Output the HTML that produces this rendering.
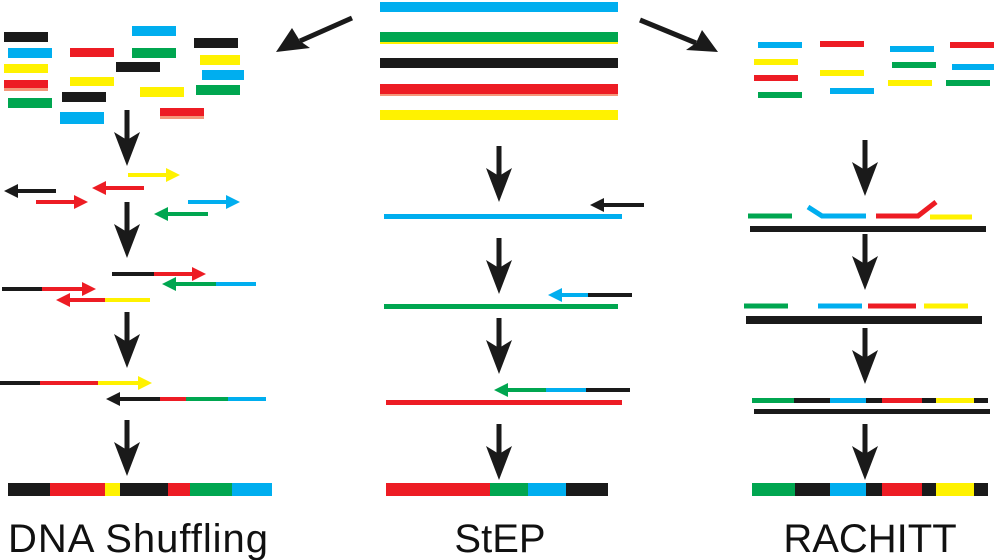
<!DOCTYPE html>
<html><head><meta charset="utf-8"><style>
html,body{margin:0;padding:0;background:#fff;width:994px;height:560px;overflow:hidden}
svg{display:block}
text{font-family:"Liberation Sans",sans-serif;fill:#111}
</style></head><body>
<svg width="994" height="560" viewBox="0 0 994 560" xmlns="http://www.w3.org/2000/svg">
<defs>
<g id="da"><rect x="-2.5" y="0" width="5" height="32"/><polygon points="-13,22 0,30 13,22 0,56"/></g>
</defs>
<g fill="#1a1a1a">
<!-- down arrows left -->
<use href="#da" x="127" y="110"/><use href="#da" x="127" y="202"/><use href="#da" x="127" y="312"/><use href="#da" x="127" y="420"/>
<use href="#da" x="499" y="146"/><use href="#da" x="499" y="238"/><use href="#da" x="499" y="318"/><use href="#da" x="499" y="424"/>
<use href="#da" x="865" y="140"/><use href="#da" x="865" y="234"/><use href="#da" x="865" y="328"/><use href="#da" x="865" y="424"/>
<!-- diagonal arrows -->
<line x1="352" y1="18" x2="300" y2="41" stroke="#1a1a1a" stroke-width="5"/>
<polygon points="276,52 292,28 300,41 310,48"/>
<line x1="640" y1="20" x2="696" y2="43" stroke="#1a1a1a" stroke-width="5"/>
<polygon points="718,52 686,50 696,43 702,30"/>
</g>
<!-- top strands middle -->
<rect x="380" y="2" width="238" height="10" fill="#00aeef"/>
<rect x="380" y="32" width="238" height="10" fill="#00a650"/><rect x="380" y="42" width="238" height="2" fill="#fff200"/>
<rect x="380" y="58" width="238" height="10" fill="#1a1a1a"/>
<rect x="380" y="84" width="238" height="10" fill="#ed1c24"/><rect x="380" y="94" width="238" height="2" fill="#f4977a"/>
<rect x="380" y="110" width="238" height="10" fill="#fff200"/>
<!-- left fragments -->
<g>
<rect x="4" y="32" width="44" height="10" fill="#1a1a1a"/>
<rect x="8" y="48" width="44" height="10" fill="#00aeef"/>
<rect x="4" y="64" width="44" height="9" fill="#fff200"/>
<rect x="4" y="80" width="44" height="8" fill="#ed1c24"/><rect x="4" y="88" width="44" height="3" fill="#f4977a"/>
<rect x="8" y="98" width="44" height="10" fill="#00a650"/>
<rect x="70" y="48" width="44" height="9" fill="#ed1c24"/>
<rect x="70" y="77" width="44" height="9" fill="#fff200"/>
<rect x="62" y="92" width="44" height="10" fill="#1a1a1a"/>
<rect x="60" y="112" width="44" height="12" fill="#00aeef"/>
<rect x="132" y="26" width="44" height="10" fill="#00aeef"/>
<rect x="132" y="48" width="44" height="10" fill="#00a650"/>
<rect x="116" y="62" width="44" height="10" fill="#1a1a1a"/>
<rect x="140" y="87" width="44" height="10" fill="#fff200"/>
<rect x="160" y="108" width="44" height="8" fill="#ed1c24"/><rect x="160" y="116" width="44" height="3" fill="#f4977a"/>
<rect x="194" y="38" width="44" height="10" fill="#1a1a1a"/>
<rect x="200" y="55" width="40" height="10" fill="#fff200"/>
<rect x="202" y="70" width="42" height="10" fill="#00aeef"/>
<rect x="196" y="85" width="44" height="10" fill="#00a650"/>
</g>
<!-- right fragments -->
<g>
<rect x="758" y="42" width="44" height="6" fill="#00aeef"/>
<rect x="820" y="41" width="44" height="6" fill="#ed1c24"/>
<rect x="890" y="46" width="44" height="6" fill="#00aeef"/>
<rect x="950" y="42" width="44" height="6" fill="#ed1c24"/>
<rect x="754" y="59" width="44" height="6" fill="#fff200"/>
<rect x="820" y="70" width="44" height="6" fill="#fff200"/>
<rect x="892" y="62" width="44" height="6" fill="#00a650"/>
<rect x="952" y="64" width="42" height="6" fill="#00aeef"/>
<rect x="754" y="75" width="44" height="6" fill="#ed1c24"/>
<rect x="830" y="88" width="44" height="6" fill="#00aeef"/>
<rect x="888" y="80" width="44" height="6" fill="#fff200"/>
<rect x="946" y="80" width="44" height="6" fill="#00a650"/>
<rect x="758" y="92" width="44" height="6" fill="#00a650"/>
</g>
<!-- shuffling step 2 -->
<g stroke-width="4">
<line x1="16" y1="191" x2="56" y2="191" stroke="#1a1a1a"/><polygon points="4,191 18,184 18,198" fill="#1a1a1a"/>
<line x1="36" y1="202" x2="76" y2="202" stroke="#ed1c24"/><polygon points="88,202 74,195 74,209" fill="#ed1c24"/>
<line x1="104" y1="188" x2="144" y2="188" stroke="#ed1c24"/><polygon points="92,188 106,181 106,195" fill="#ed1c24"/>
<line x1="128" y1="175" x2="168" y2="175" stroke="#fff200"/><polygon points="180,175 166,168 166,182" fill="#fff200"/>
<line x1="188" y1="202" x2="228" y2="202" stroke="#00aeef"/><polygon points="240,202 226,195 226,209" fill="#00aeef"/>
<line x1="166" y1="214" x2="208" y2="214" stroke="#00a650"/><polygon points="154,214 168,207 168,221" fill="#00a650"/>
<!-- step 3 -->
<line x1="112" y1="274" x2="154" y2="274" stroke="#1a1a1a"/><line x1="154" y1="274" x2="194" y2="274" stroke="#ed1c24"/><polygon points="206,274 192,267 192,281" fill="#ed1c24"/>
<line x1="174" y1="284" x2="216" y2="284" stroke="#00a650"/><line x1="216" y1="284" x2="256" y2="284" stroke="#00aeef"/><polygon points="162,284 176,277 176,291" fill="#00a650"/>
<line x1="2" y1="289" x2="42" y2="289" stroke="#1a1a1a"/><line x1="42" y1="289" x2="84" y2="289" stroke="#ed1c24"/><polygon points="96,289 82,282 82,296" fill="#ed1c24"/>
<line x1="68" y1="300" x2="105" y2="300" stroke="#ed1c24"/><line x1="105" y1="300" x2="150" y2="300" stroke="#fff200"/><polygon points="56,300 70,293 70,307" fill="#ed1c24"/>
<!-- step 4 -->
<line x1="0" y1="383" x2="40" y2="383" stroke="#1a1a1a"/><line x1="40" y1="383" x2="98" y2="383" stroke="#ed1c24"/><line x1="98" y1="383" x2="140" y2="383" stroke="#fff200"/><polygon points="152,383 138,376 138,390" fill="#fff200"/>
<line x1="118" y1="399" x2="160" y2="399" stroke="#1a1a1a"/><line x1="160" y1="399" x2="186" y2="399" stroke="#ed1c24"/><line x1="186" y1="399" x2="228" y2="399" stroke="#00a650"/><line x1="228" y1="399" x2="266" y2="399" stroke="#00aeef"/><polygon points="106,399 120,392 120,406" fill="#1a1a1a"/>
<!-- StEP -->
<line x1="602" y1="205" x2="644" y2="205" stroke="#1a1a1a"/><polygon points="590,205 604,198 604,212" fill="#1a1a1a"/>
<line x1="560" y1="295" x2="588" y2="295" stroke="#00aeef"/><line x1="588" y1="295" x2="632" y2="295" stroke="#1a1a1a"/><polygon points="548,295 562,288 562,302" fill="#00aeef"/>
<line x1="506" y1="390" x2="546" y2="390" stroke="#00a650"/><line x1="546" y1="390" x2="586" y2="390" stroke="#00aeef"/><line x1="586" y1="390" x2="630" y2="390" stroke="#1a1a1a"/><polygon points="494,390 508,383 508,397" fill="#00a650"/>
</g>
<rect x="384" y="214" width="238" height="5" fill="#00aeef"/>
<rect x="384" y="304" width="234" height="5" fill="#00a650"/>
<rect x="386" y="400" width="236" height="5" fill="#ed1c24"/>
<!-- RACHITT -->
<g stroke-width="5" fill="none">
<line x1="748" y1="216" x2="792" y2="216" stroke="#00a650"/>
<polyline points="808,207 822,216 866,216" stroke="#00aeef"/>
<polyline points="876,216 918,216 936,202" stroke="#ed1c24"/>
<line x1="930" y1="217" x2="972" y2="217" stroke="#fff200"/>
<line x1="744" y1="306" x2="788" y2="306" stroke="#00a650"/>
<line x1="818" y1="306" x2="862" y2="306" stroke="#00aeef"/>
<line x1="868" y1="306" x2="916" y2="306" stroke="#ed1c24"/>
<line x1="924" y1="306" x2="968" y2="306" stroke="#fff200"/>
</g>
<rect x="750" y="226" width="236" height="6" fill="#1a1a1a"/>
<rect x="746" y="316" width="236" height="8" fill="#1a1a1a"/>
<g>
<rect x="752" y="398" width="236" height="5" fill="#1a1a1a"/>
<rect x="752" y="398" width="42" height="5" fill="#00a650"/><rect x="830" y="398" width="36" height="5" fill="#00aeef"/><rect x="882" y="398" width="40" height="5" fill="#ed1c24"/><rect x="936" y="398" width="38" height="5" fill="#fff200"/>
<rect x="754" y="409" width="236" height="5" fill="#1a1a1a"/>
</g>
<!-- final bars -->
<g>
<rect x="8" y="483" width="42" height="13" fill="#1a1a1a"/><rect x="50" y="483" width="55" height="13" fill="#ed1c24"/><rect x="105" y="483" width="15" height="13" fill="#fff200"/><rect x="120" y="483" width="48" height="13" fill="#1a1a1a"/><rect x="168" y="483" width="22" height="13" fill="#ed1c24"/><rect x="190" y="483" width="42" height="13" fill="#00a650"/><rect x="232" y="483" width="40" height="13" fill="#00aeef"/>
<rect x="386" y="483" width="104" height="13" fill="#ed1c24"/><rect x="490" y="483" width="38" height="13" fill="#00a650"/><rect x="528" y="483" width="38" height="13" fill="#00aeef"/><rect x="566" y="483" width="42" height="13" fill="#1a1a1a"/>
<rect x="752" y="483" width="43" height="13" fill="#00a650"/><rect x="795" y="483" width="35" height="13" fill="#1a1a1a"/><rect x="830" y="483" width="36" height="13" fill="#00aeef"/><rect x="866" y="483" width="16" height="13" fill="#1a1a1a"/><rect x="882" y="483" width="40" height="13" fill="#ed1c24"/><rect x="922" y="483" width="14" height="13" fill="#1a1a1a"/><rect x="936" y="483" width="38" height="13" fill="#fff200"/><rect x="974" y="483" width="14" height="13" fill="#1a1a1a"/>
</g>
<text x="138" y="552" font-size="40" text-anchor="middle" textLength="260">DNA Shuffling</text>
<text x="500" y="552" font-size="40" text-anchor="middle">StEP</text>
<text x="870" y="552" font-size="40" text-anchor="middle">RACHITT</text>
</svg>
</body></html>
